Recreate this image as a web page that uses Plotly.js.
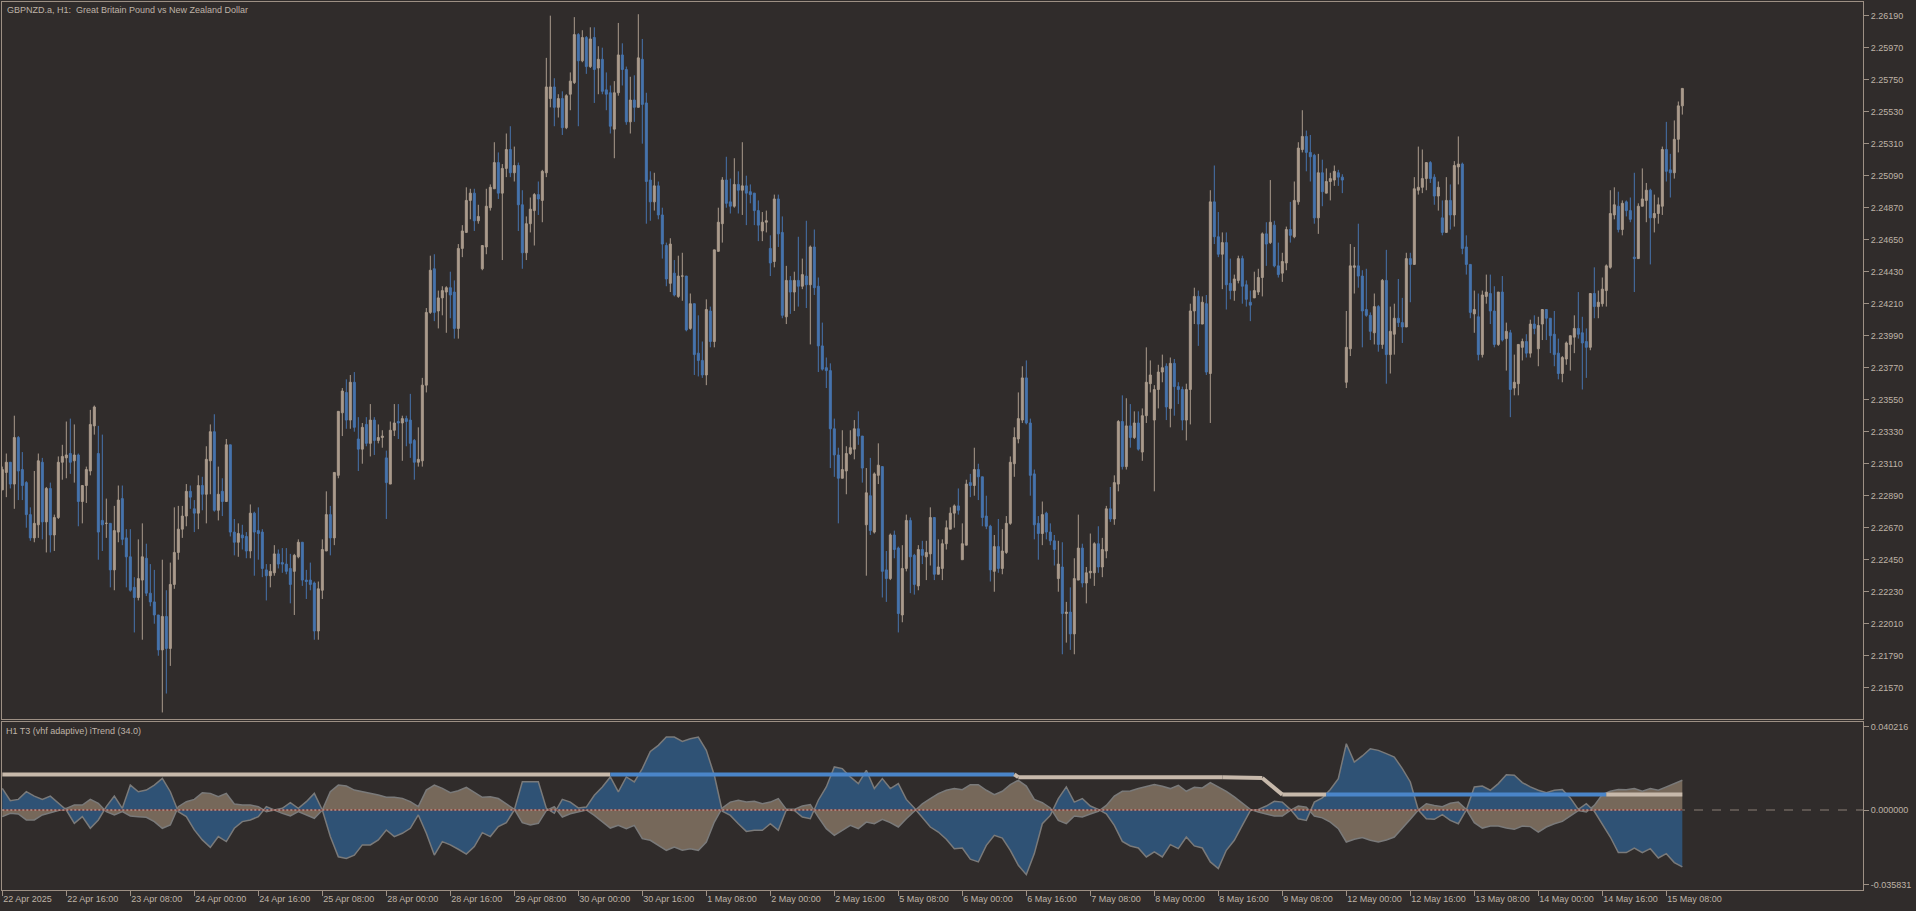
<!DOCTYPE html>
<html><head><meta charset="utf-8">
<script src="https://cdn.plot.ly/plotly-3.0.1.min.js"></script>
<style>html,body{margin:0;padding:0;background:#302c2b;overflow:hidden}#chart{width:1916px;height:911px}</style>
</head><body><div id="chart"></div>
<script>
// ---------- DATA (GBPNZD.a H1, 22 Apr 2025 00:00 -> 15 May 2025 12:00) ----------
const openP = [
2.2293,2.2305,2.2312,2.2297,2.2329,2.2307,2.2298,2.2276,2.2260,2.2269,
2.2312,2.2271,2.2294,2.2262,2.2274,2.2312,2.2315,2.2318,2.2313,2.2317,
2.2285,2.2296,2.2306,2.2337,2.2318,2.2272,2.2270,2.2270,2.2238,2.2264,
2.2287,2.2260,2.2247,2.2226,2.2219,2.2231,2.2246,2.2222,2.2216,2.2207,
2.2183,2.2206,2.2184,2.2228,2.2250,2.2266,2.2275,2.2292,2.2280,2.2277,
2.2296,2.2290,2.2313,2.2333,2.2279,2.2292,2.2285,2.2324,2.2264,2.2257,
2.2262,2.2261,2.2251,2.2277,2.2265,2.2264,2.2238,2.2234,2.2236,2.2249,
2.2243,2.2242,2.2239,2.2237,2.2247,2.2257,2.2231,2.2231,2.2229,2.2196,
2.2224,2.2251,2.2276,2.2260,2.2303,2.2346,2.2360,2.2341,2.2367,2.2328,
2.2321,2.2338,2.2325,2.2341,2.2327,2.2329,2.2315,2.2297,2.2334,2.2340,
2.2339,2.2342,2.2341,2.2327,2.2312,2.2313,2.2365,2.2415,2.2445,2.2416,
2.2425,2.2429,2.2432,2.2429,2.2404,2.2459,2.2470,2.2492,2.2497,2.2478,
2.2445,2.2460,2.2487,2.2500,2.2518,2.2497,2.2514,2.2527,2.2511,2.2516,
2.2489,2.2456,2.2476,2.2485,2.2496,2.2492,2.2511,2.2562,2.2570,2.2556,
2.2562,2.2542,2.2565,2.2573,2.2606,2.2588,2.2604,2.2584,2.2604,2.2583,
2.2589,2.2568,2.2566,2.2541,2.2566,2.2592,2.2582,2.2546,2.2561,2.2556,
2.2589,2.2559,2.2506,2.2491,2.2502,2.2482,2.2461,2.2435,2.2442,2.2426,
2.2440,2.2440,2.2404,2.2421,2.2387,2.2382,2.2372,2.2416,2.2395,2.2457,
2.2476,2.2506,2.2491,2.2488,2.2503,2.2499,2.2502,2.2498,2.2497,2.2485,
2.2471,2.2477,2.2459,2.2450,2.2493,2.2470,2.2412,2.2437,2.2429,2.2437,
2.2433,2.2440,2.2434,2.2460,2.2433,2.2392,2.2377,2.2375,2.2335,2.2317,
2.2301,2.2306,2.2318,2.2321,2.2335,2.2330,2.2269,2.2289,2.2264,2.2303,
2.2309,2.2238,2.2232,2.2262,2.2253,2.2207,2.2239,2.2272,2.2248,2.2227,
2.2252,2.2247,2.2249,2.2274,2.2235,2.2239,2.2256,2.2266,2.2277,2.2282,
2.2245,2.2255,2.2298,2.2296,2.2307,2.2302,2.2275,2.2268,2.2237,2.2254,
2.2239,2.2250,2.2270,2.2311,2.2328,2.2341,2.2370,2.2339,2.2304,2.2270,
2.2263,2.2277,2.2264,2.2258,2.2232,2.2240,2.2208,2.2209,2.2194,2.2231,
2.2253,2.2229,2.2236,2.2236,2.2256,2.2240,2.2251,2.2280,2.2273,2.2297,
2.2340,2.2309,2.2337,2.2329,2.2339,2.2319,2.2344,2.2366,2.2341,2.2362,
2.2374,2.2378,2.2349,2.2380,2.2364,2.2362,2.2341,2.2362,2.2416,2.2426,
2.2407,2.2421,2.2373,2.2491,2.2467,2.2455,2.2463,2.2435,2.2430,2.2437,
2.2452,2.2434,2.2422,2.2425,2.2429,2.2439,2.2469,2.2463,2.2475,2.2447,
2.2442,2.2449,2.2472,2.2467,2.2491,2.2527,2.2536,2.2525,2.2523,2.2480,
2.2511,2.2497,2.2505,2.2506,2.2511,2.2508,2.2367,2.2390,2.2446,2.2447,
2.2440,2.2417,2.2413,2.2401,2.2419,2.2393,2.2437,2.2386,2.2400,2.2411,
2.2408,2.2405,2.2452,2.2448,2.2499,2.2501,2.2507,2.2518,2.2508,2.2495,
2.2480,2.2470,2.2492,2.2482,2.2515,2.2517,2.2460,2.2448,2.2414,2.2412,
2.2386,2.2426,2.2428,2.2416,2.2393,2.2429,2.2397,2.2401,2.2363,2.2366,
2.2391,2.2395,2.2387,2.2407,2.2390,2.2407,2.2417,2.2411,2.2400,2.2387,
2.2373,2.2383,2.2393,2.2398,2.2404,2.2401,2.2395,2.2391,2.2428,2.2419,
2.2421,2.2430,2.2446,2.2482,2.2488,2.2472,2.2491,2.2485,2.2453,2.2452,
2.2488,2.2492,2.2499,2.2480,2.2483,2.2488,2.2527,2.2513,2.2511,2.2534,
2.2557];
const highP = [
2.2309,2.2318,2.2312,2.2344,2.2330,2.2319,2.2299,2.2281,2.2306,2.2318,
2.2315,2.2295,2.2298,2.2276,2.2316,2.2324,2.2340,2.2342,2.2338,2.2318,
2.2296,2.2309,2.2348,2.2351,2.2337,2.2331,2.2287,2.2270,2.2282,2.2296,
2.2296,2.2266,2.2266,2.2233,2.2259,2.2270,2.2256,2.2242,2.2238,2.2207,
2.2245,2.2224,2.2243,2.2281,2.2282,2.2282,2.2297,2.2296,2.2286,2.2303,
2.2302,2.2323,2.2338,2.2345,2.2309,2.2301,2.2328,2.2324,2.2273,2.2270,
2.2269,2.2264,2.2283,2.2278,2.2281,2.2266,2.2242,2.2242,2.2255,2.2252,
2.2253,2.2253,2.2249,2.2249,2.2259,2.2257,2.2238,2.2243,2.2230,2.2230,
2.2259,2.2292,2.2282,2.2305,2.2347,2.2363,2.2369,2.2372,2.2374,2.2343,
2.2339,2.2343,2.2352,2.2343,2.2338,2.2334,2.2320,2.2340,2.2352,2.2352,
2.2344,2.2344,2.2359,2.2328,2.2336,2.2370,2.2418,2.2454,2.2455,2.2430,
2.2433,2.2433,2.2443,2.2437,2.2462,2.2475,2.2501,2.2500,2.2500,2.2489,
2.2461,2.2500,2.2503,2.2532,2.2525,2.2517,2.2538,2.2543,2.2529,2.2518,
2.2499,2.2481,2.2494,2.2497,2.2505,2.2513,2.2590,2.2619,2.2576,2.2565,
2.2567,2.2565,2.2580,2.2618,2.2607,2.2609,2.2605,2.2611,2.2611,2.2598,
2.2597,2.2580,2.2571,2.2574,2.2614,2.2600,2.2584,2.2577,2.2578,2.2620,
2.2603,2.2566,2.2512,2.2511,2.2505,2.2487,2.2463,2.2466,2.2451,2.2454,
2.2456,2.2440,2.2428,2.2421,2.2413,2.2395,2.2424,2.2419,2.2458,2.2487,
2.2508,2.2522,2.2507,2.2521,2.2512,2.2532,2.2509,2.2503,2.2497,2.2492,
2.2484,2.2485,2.2468,2.2496,2.2496,2.2481,2.2447,2.2440,2.2443,2.2467,
2.2452,2.2478,2.2461,2.2472,2.2439,2.2408,2.2384,2.2380,2.2342,2.2322,
2.2334,2.2323,2.2334,2.2341,2.2347,2.2330,2.2308,2.2315,2.2305,2.2325,
2.2309,2.2251,2.2263,2.2265,2.2254,2.2255,2.2276,2.2274,2.2249,2.2255,
2.2258,2.2258,2.2281,2.2274,2.2259,2.2259,2.2272,2.2281,2.2283,2.2294,
2.2270,2.2300,2.2304,2.2322,2.2311,2.2302,2.2289,2.2269,2.2262,2.2273,
2.2266,2.2275,2.2316,2.2336,2.2360,2.2378,2.2382,2.2342,2.2307,2.2275,
2.2285,2.2278,2.2270,2.2262,2.2258,2.2257,2.2216,2.2226,2.2246,2.2276,
2.2256,2.2240,2.2263,2.2257,2.2268,2.2260,2.2282,2.2295,2.2303,2.2341,
2.2358,2.2356,2.2352,2.2347,2.2347,2.2349,2.2391,2.2382,2.2365,2.2379,
2.2386,2.2380,2.2384,2.2383,2.2367,2.2364,2.2366,2.2421,2.2432,2.2430,
2.2426,2.2427,2.2499,2.2516,2.2484,2.2470,2.2470,2.2452,2.2441,2.2454,
2.2454,2.2437,2.2430,2.2443,2.2445,2.2470,2.2477,2.2506,2.2478,2.2463,
2.2456,2.2474,2.2491,2.2505,2.2532,2.2554,2.2540,2.2537,2.2524,2.2524,
2.2520,2.2514,2.2511,2.2516,2.2513,2.2510,2.2416,2.2462,2.2460,2.2476,
2.2444,2.2445,2.2415,2.2428,2.2420,2.2438,2.2458,2.2419,2.2421,2.2438,
2.2425,2.2456,2.2456,2.2508,2.2529,2.2527,2.2518,2.2519,2.2510,2.2505,
2.2492,2.2508,2.2503,2.2519,2.2536,2.2518,2.2468,2.2448,2.2430,2.2428,
2.2430,2.2441,2.2441,2.2433,2.2429,2.2440,2.2408,2.2403,2.2386,2.2393,
2.2397,2.2400,2.2410,2.2413,2.2412,2.2417,2.2417,2.2411,2.2416,2.2397,
2.2385,2.2395,2.2399,2.2413,2.2429,2.2412,2.2404,2.2428,2.2446,2.2430,
2.2439,2.2448,2.2499,2.2501,2.2498,2.2492,2.2492,2.2494,2.2511,2.2490,
2.2514,2.2504,2.2500,2.2496,2.2494,2.2529,2.2546,2.2524,2.2547,2.2560,
2.2569];
const lowP = [
2.2293,2.2288,2.2294,2.2280,2.2286,2.2286,2.2267,2.2258,2.2257,2.2260,
2.2259,2.2250,2.2250,2.2251,2.2273,2.2300,2.2301,2.2304,2.2298,2.2268,
2.2270,2.2284,2.2303,2.2331,2.2245,2.2251,2.2260,2.2226,2.2224,2.2257,
2.2255,2.2226,2.2223,2.2195,2.2217,2.2190,2.2220,2.2213,2.2201,2.2179,
2.2140,2.2153,2.2172,2.2225,2.2245,2.2260,2.2268,2.2280,2.2264,2.2266,
2.2279,2.2270,2.2290,2.2278,2.2272,2.2275,2.2285,2.2261,2.2248,2.2247,
2.2252,2.2246,2.2246,2.2234,2.2245,2.2233,2.2217,2.2226,2.2234,2.2239,
2.2236,2.2235,2.2215,2.2207,2.2246,2.2227,2.2218,2.2224,2.2190,2.2190,
2.2218,2.2251,2.2248,2.2255,2.2301,2.2330,2.2335,2.2335,2.2333,2.2306,
2.2311,2.2323,2.2316,2.2317,2.2325,2.2322,2.2273,2.2297,2.2330,2.2328,
2.2313,2.2323,2.2315,2.2300,2.2309,2.2309,2.2360,2.2414,2.2409,2.2404,
2.2413,2.2401,2.2411,2.2397,2.2397,2.2453,2.2470,2.2479,2.2471,2.2476,
2.2444,2.2455,2.2485,2.2500,2.2493,2.2451,2.2508,2.2508,2.2505,2.2471,
2.2445,2.2451,2.2470,2.2461,2.2482,2.2477,2.2508,2.2556,2.2543,2.2549,
2.2537,2.2541,2.2554,2.2572,2.2543,2.2587,2.2579,2.2583,2.2559,2.2565,
2.2565,2.2554,2.2538,2.2521,2.2564,2.2571,2.2544,2.2538,2.2546,2.2556,
2.2531,2.2476,2.2478,2.2485,2.2479,2.2452,2.2433,2.2429,2.2426,2.2425,
2.2423,2.2402,2.2403,2.2372,2.2371,2.2370,2.2365,2.2391,2.2391,2.2457,
2.2463,2.2487,2.2483,2.2487,2.2483,2.2482,2.2475,2.2490,2.2475,2.2464,
2.2464,2.2470,2.2440,2.2446,2.2460,2.2411,2.2407,2.2414,2.2416,2.2419,
2.2431,2.2418,2.2393,2.2427,2.2374,2.2375,2.2363,2.2308,2.2302,2.2270,
2.2301,2.2290,2.2317,2.2314,2.2324,2.2298,2.2234,2.2262,2.2263,2.2297,
2.2219,2.2216,2.2231,2.2246,2.2195,2.2202,2.2237,2.2222,2.2221,2.2224,
2.2242,2.2231,2.2241,2.2231,2.2235,2.2231,2.2252,2.2266,2.2267,2.2276,
2.2245,2.2255,2.2288,2.2289,2.2286,2.2268,2.2266,2.2230,2.2223,2.2236,
2.2235,2.2249,2.2269,2.2302,2.2325,2.2339,2.2338,2.2289,2.2259,2.2245,
2.2255,2.2259,2.2255,2.2241,2.2223,2.2180,2.2188,2.2183,2.2180,2.2231,
2.2226,2.2215,2.2232,2.2227,2.2236,2.2233,2.2246,2.2271,2.2269,2.2292,
2.2307,2.2307,2.2322,2.2328,2.2320,2.2313,2.2339,2.2360,2.2292,2.2349,
2.2367,2.2341,2.2336,2.2344,2.2352,2.2334,2.2327,2.2338,2.2407,2.2392,
2.2407,2.2372,2.2339,2.2462,2.2453,2.2431,2.2417,2.2424,2.2423,2.2435,
2.2421,2.2419,2.2409,2.2425,2.2427,2.2426,2.2447,2.2462,2.2446,2.2439,
2.2436,2.2444,2.2463,2.2466,2.2489,2.2525,2.2512,2.2505,2.2476,2.2469,
2.2488,2.2497,2.2492,2.2502,2.2502,2.2497,2.2363,2.2385,2.2428,2.2432,
2.2391,2.2412,2.2396,2.2393,2.2388,2.2390,2.2366,2.2373,2.2386,2.2405,
2.2394,2.2405,2.2422,2.2448,2.2496,2.2497,2.2499,2.2504,2.2489,2.2485,
2.2468,2.2470,2.2472,2.2474,2.2503,2.2455,2.2441,2.2411,2.2401,2.2382,
2.2384,2.2421,2.2407,2.2391,2.2392,2.2395,2.2375,2.2343,2.2358,2.2358,
2.2382,2.2384,2.2384,2.2400,2.2378,2.2396,2.2396,2.2387,2.2378,2.2369,
2.2367,2.2379,2.2375,2.2387,2.2397,2.2362,2.2370,2.2389,2.2411,2.2411,
2.2419,2.2419,2.2445,2.2479,2.2470,2.2468,2.2481,2.2477,2.2429,2.2452,
2.2488,2.2477,2.2448,2.2470,2.2476,2.2482,2.2505,2.2494,2.2507,2.2525,
2.2551];
const closeP = [
2.2307,2.2312,2.2297,2.2329,2.2306,2.2296,2.2276,2.2260,2.2270,2.2313,
2.2271,2.2294,2.2262,2.2274,2.2312,2.2316,2.2317,2.2312,2.2317,2.2285,
2.2296,2.2307,2.2338,2.2350,2.2264,2.2269,2.2270,2.2238,2.2265,2.2286,
2.2259,2.2247,2.2224,2.2219,2.2232,2.2247,2.2222,2.2216,2.2207,2.2183,
2.2206,2.2184,2.2228,2.2250,2.2266,2.2275,2.2292,2.2288,2.2277,2.2296,
2.2290,2.2314,2.2333,2.2279,2.2290,2.2285,2.2324,2.2264,2.2257,2.2263,
2.2260,2.2251,2.2277,2.2264,2.2263,2.2239,2.2234,2.2237,2.2249,2.2242,
2.2242,2.2237,2.2228,2.2248,2.2257,2.2231,2.2230,2.2228,2.2196,2.2225,
2.2252,2.2276,2.2260,2.2305,2.2347,2.2361,2.2341,2.2367,2.2336,2.2321,
2.2336,2.2325,2.2341,2.2327,2.2329,2.2330,2.2298,2.2334,2.2339,2.2339,
2.2342,2.2340,2.2325,2.2312,2.2314,2.2365,2.2415,2.2444,2.2415,2.2425,
2.2430,2.2432,2.2427,2.2404,2.2459,2.2471,2.2492,2.2497,2.2478,2.2481,
2.2461,2.2488,2.2501,2.2518,2.2497,2.2514,2.2527,2.2511,2.2516,2.2489,
2.2456,2.2476,2.2486,2.2496,2.2493,2.2512,2.2570,2.2570,2.2556,2.2562,
2.2542,2.2564,2.2574,2.2606,2.2588,2.2604,2.2584,2.2603,2.2582,2.2589,
2.2567,2.2565,2.2543,2.2566,2.2592,2.2582,2.2546,2.2561,2.2556,2.2590,
2.2558,2.2505,2.2491,2.2502,2.2482,2.2462,2.2438,2.2462,2.2427,2.2440,
2.2440,2.2403,2.2421,2.2386,2.2382,2.2372,2.2417,2.2395,2.2458,2.2477,
2.2506,2.2490,2.2488,2.2503,2.2499,2.2502,2.2497,2.2496,2.2485,2.2475,
2.2477,2.2478,2.2449,2.2493,2.2469,2.2413,2.2437,2.2429,2.2437,2.2433,
2.2441,2.2434,2.2460,2.2432,2.2392,2.2376,2.2375,2.2335,2.2317,2.2301,
2.2307,2.2318,2.2322,2.2335,2.2330,2.2308,2.2291,2.2265,2.2304,2.2310,
2.2237,2.2232,2.2262,2.2252,2.2208,2.2239,2.2272,2.2247,2.2228,2.2252,
2.2248,2.2250,2.2274,2.2235,2.2240,2.2256,2.2267,2.2277,2.2282,2.2279,
2.2256,2.2297,2.2296,2.2307,2.2302,2.2274,2.2268,2.2238,2.2254,2.2239,
2.2251,2.2270,2.2312,2.2329,2.2342,2.2370,2.2339,2.2303,2.2269,2.2263,
2.2276,2.2264,2.2258,2.2252,2.2242,2.2208,2.2209,2.2194,2.2232,2.2253,
2.2229,2.2236,2.2237,2.2256,2.2240,2.2252,2.2280,2.2273,2.2298,2.2340,
2.2309,2.2337,2.2329,2.2339,2.2321,2.2344,2.2367,2.2372,2.2362,2.2374,
2.2377,2.2350,2.2380,2.2364,2.2362,2.2341,2.2362,2.2416,2.2426,2.2407,
2.2422,2.2374,2.2491,2.2467,2.2455,2.2463,2.2434,2.2430,2.2438,2.2452,
2.2433,2.2424,2.2420,2.2430,2.2439,2.2469,2.2462,2.2477,2.2447,2.2441,
2.2450,2.2472,2.2468,2.2492,2.2528,2.2536,2.2525,2.2522,2.2480,2.2511,
2.2498,2.2505,2.2507,2.2512,2.2508,2.2506,2.2391,2.2447,2.2447,2.2440,
2.2416,2.2413,2.2402,2.2419,2.2393,2.2437,2.2386,2.2402,2.2411,2.2408,
2.2405,2.2452,2.2448,2.2500,2.2501,2.2507,2.2518,2.2507,2.2495,2.2501,
2.2470,2.2492,2.2482,2.2516,2.2517,2.2459,2.2448,2.2415,2.2417,2.2386,
2.2427,2.2429,2.2416,2.2393,2.2429,2.2396,2.2402,2.2362,2.2367,2.2393,
2.2395,2.2387,2.2407,2.2404,2.2406,2.2417,2.2411,2.2399,2.2386,2.2373,
2.2384,2.2394,2.2399,2.2404,2.2400,2.2394,2.2391,2.2428,2.2419,2.2422,
2.2431,2.2447,2.2483,2.2489,2.2472,2.2490,2.2485,2.2479,2.2452,2.2488,
2.2493,2.2499,2.2480,2.2483,2.2489,2.2527,2.2512,2.2511,2.2534,2.2557,
2.2569];

const priceTicks = [2.2157,2.2179,2.2201,2.2223,2.2245,2.2267,2.2289,2.2311,2.2333,2.2355,2.2377,
  2.2399,2.2421,2.2443,2.2465,2.2487,2.2509,2.2531,2.2553,2.2575,2.2597,2.2619];
const timeTickBars = [0,16,32,48,64,80,96,112,128,144,160,176,192,208,224,240,256,272,288,304,320,336,352,368,384,400,416];
const timeTickLabels = ['22 Apr 2025','22 Apr 16:00','23 Apr 08:00','24 Apr 00:00','24 Apr 16:00','25 Apr 08:00',
  '28 Apr 00:00','28 Apr 16:00','29 Apr 08:00','30 Apr 00:00','30 Apr 16:00','1 May 08:00','2 May 00:00',
  '2 May 16:00','5 May 08:00','6 May 00:00','6 May 16:00','7 May 08:00','8 May 00:00','8 May 16:00',
  '9 May 08:00','12 May 00:00','12 May 16:00','13 May 08:00','14 May 00:00','14 May 16:00','15 May 08:00'];

// iTrend indicator, read every 2nd bar (bar index, bull line, bear line)
const indBars = [0,2,4,6,8,10,12,14,16,18,20,22,24,26,28,30,32,34,36,38,40,42,44,46,48,50,52,54,56,58,
60,62,64,66,68,70,72,74,76,78,80,82,84,86,88,90,92,94,96,98,100,102,104,106,108,110,112,114,116,118,
120,122,124,126,128,130,132,134,136,138,140,142,144,146,148,150,152,154,156,158,160,162,164,166,168,170,172,174,176,178,
180,182,184,186,188,190,192,194,196,198,200,202,204,206,208,210,212,214,216,218,220,222,224,226,228,230,232,234,236,238,
240,242,244,246,248,250,252,254,256,258,260,262,264,266,268,270,272,274,276,278,280,282,284,286,288,290,292,294,296,298,
300,302,304,306,308,310,312,314,316,318,320,322,324,326,328,330,332,334,336,338,340,342,344,346,348,350,352,354,356,358,
360,362,364,366,368,370,372,374,376,378,380,382,384,386,388,390,392,394,396,398,400,402,404,406,408,410,412,414,416,418,420];
const bullLine = [
0.0104,0.0045,0.0051,0.0088,0.0067,0.0051,0.0067,0.0032,0,-0.0064,
-0.0032,-0.0088,-0.0048,0.0016,0.0067,0.0008,0.0120,0.0088,0.0096,0.0120,
0.0152,0.0088,-0.0008,-0.0032,-0.0096,-0.0144,-0.0180,-0.0128,-0.0152,-0.0088,
-0.0056,-0.0048,-0.0032,0.0016,0,0.0008,0.0035,0.0008,0.0040,0.0080,
0,-0.0128,-0.0225,-0.0233,-0.0217,-0.0168,-0.0168,-0.0144,-0.0096,-0.0128,
-0.0112,-0.0088,-0.0024,-0.0112,-0.0217,-0.0152,-0.0168,-0.0189,-0.0212,-0.0176,
-0.0109,-0.0128,-0.0080,-0.0061,0,0.0136,0.0136,0.0136,0.0008,-0.0016,
0.0051,0.0038,0.0010,0.0014,0.0071,0.0111,0.0159,0.0087,0.0159,0.0135,
0.0199,0.0282,0.0311,0.0351,0.0351,0.0330,0.0343,0.0351,0.0287,0.0167,
-0.0006,-0.0026,-0.0066,-0.0103,-0.0098,-0.0098,-0.0066,-0.0098,0,-0.0002,
-0.0034,-0.0042,0.0047,0.0111,0.0207,0.0199,0.0159,0.0127,0.0191,0.0103,
0.0151,0.0103,0.0127,0.0051,0.0010,-0.0038,-0.0082,-0.0106,-0.0141,-0.0186,
-0.0183,-0.0237,-0.0250,-0.0170,-0.0122,-0.0135,-0.0194,-0.0266,-0.0311,-0.0210,
-0.0066,-0.0026,0.0055,0.0111,0.0038,0.0055,0.0019,0.0003,-0.0018,-0.0074,
-0.0151,-0.0173,-0.0183,-0.0226,-0.0202,-0.0226,-0.0167,-0.0186,-0.0130,-0.0173,
-0.0183,-0.0250,-0.0282,-0.0194,-0.0146,-0.0074,-0.0003,0.0003,0.0019,0.0042,
0.0038,0.0003,-0.0042,-0.0050,0.0038,0.0058,0.0099,0.0151,0.0319,0.0231,
0.0260,0.0295,0.0287,0.0271,0.0255,0.0199,0.0135,0,-0.0042,-0.0045,
-0.0022,-0.0050,-0.0066,0,0.0111,0.0115,0.0095,0.0127,0.0170,0.0167,
0.0132,0.0111,0.0095,0.0083,0.0095,0.0099,0.0058,0.0003,0.0030,-0.0006,
-0.0066,-0.0130,-0.0205,-0.0205,-0.0183,-0.0205,-0.0186,-0.0231,-0.0210,-0.0253,
-0.0274];
const bearLine = [
-0.0032,-0.0016,-0.0019,-0.0048,-0.0048,-0.0024,-0.0013,-0.0003,0.0008,0.0024,
0.0024,0.0051,0.0032,-0.0008,-0.0024,-0.0008,-0.0029,-0.0032,-0.0035,-0.0056,
-0.0088,-0.0072,0.0016,0.0040,0.0051,0.0083,0.0080,0.0064,0.0080,0.0029,
0.0024,0.0024,0.0016,-0.0008,0,-0.0016,-0.0029,-0.0008,-0.0024,-0.0040,
0,0.0088,0.0120,0.0115,0.0096,0.0088,0.0083,0.0072,0.0061,0.0061,
0.0056,0.0040,0.0016,0.0096,0.0120,0.0104,0.0083,0.0093,0.0109,0.0083,
0.0061,0.0064,0.0055,0.0029,0.0003,-0.0061,-0.0072,-0.0064,-0.0003,0.0016,
-0.0034,-0.0018,-0.0010,0,-0.0026,-0.0058,-0.0087,-0.0074,-0.0090,-0.0074,
-0.0138,-0.0146,-0.0170,-0.0194,-0.0178,-0.0194,-0.0186,-0.0194,-0.0154,-0.0058,
0.0010,0.0038,0.0047,0.0038,0.0042,0.0030,0.0038,0.0055,0.0003,0.0003,
0.0019,0.0026,-0.0034,-0.0090,-0.0122,-0.0098,-0.0074,-0.0090,-0.0058,-0.0066,
-0.0045,-0.0061,-0.0082,-0.0042,-0.0006,0.0030,0.0055,0.0079,0.0095,0.0103,
0.0098,0.0122,0.0122,0.0095,0.0074,0.0090,0.0122,0.0143,0.0115,0.0051,
0.0035,0.0010,-0.0050,-0.0066,-0.0029,-0.0034,-0.0019,-0.0006,0.0022,0.0067,
0.0090,0.0091,0.0103,0.0111,0.0122,0.0114,0.0103,0.0119,0.0090,0.0109,
0.0106,0.0132,0.0111,0.0090,0.0063,0.0035,0.0003,-0.0010,-0.0018,-0.0029,
-0.0029,-0.0002,0.0019,0.0014,-0.0029,-0.0038,-0.0058,-0.0090,-0.0154,-0.0141,
-0.0133,-0.0146,-0.0154,-0.0144,-0.0130,-0.0090,-0.0045,0,0.0030,0.0022,
0.0016,0.0032,0.0038,0.0003,-0.0061,-0.0087,-0.0077,-0.0077,-0.0087,-0.0093,
-0.0077,-0.0080,-0.0106,-0.0082,-0.0066,-0.0055,-0.0029,-0.0003,-0.0010,0.0022,
0.0074,0.0090,0.0099,0.0098,0.0103,0.0090,0.0103,0.0095,0.0111,0.0127,
0.0143];
// T3 level line: break points and trend state of each following segment
const levelBars = [0,152,253,254,305,315,320,331,401,420];
const levelVals = [0.0171,0.0171,0.0171,0.0158,0.0157,0.0154,0.0074,0.0074,0.0074,0.0074];
const levelTrend = ['down','up','down','down','down','down','down','up','down'];
const indMax = 0.040216, indMin = -0.035831;

// ---------- STYLE ----------
const BG='#302c2b', UP='#aa9b8c', DN='#4674ad', TXT='#bfb3a7', AX='#9d9084';
const FONT={family:'Liberation Sans, Arial, sans-serif', size:9, color:TXT};
const barIndex = closeP.map((_, i) => i);
const xr=[-0.08, 465.17];

const traces=[];
traces.push({type:'candlestick', x:barIndex, open:openP, high:highP, low:lowP, close:closeP,
  xaxis:'x', yaxis:'y', whiskerwidth:0, hoverinfo:'skip',
  increasing:{line:{color:UP,width:1}, fillcolor:UP},
  decreasing:{line:{color:DN,width:1}, fillcolor:DN}});
traces.push({type:'scatter', mode:'lines', x:indBars, y:bearLine, xaxis:'x2', yaxis:'y2',
  fill:'tozeroy', fillcolor:'#76685a', line:{color:'#7a7a7a', width:1.5}, hoverinfo:'skip'});
traces.push({type:'scatter', mode:'lines', x:indBars, y:bullLine, xaxis:'x2', yaxis:'y2',
  fill:'tozeroy', fillcolor:'#2f5275', line:{color:'#7a7a7a', width:1.5}, hoverinfo:'skip'});
// zero level over the data: dark red with light dots
const zx = [barIndex[0], barIndex[barIndex.length-1]];
traces.push({type:'scatter', mode:'lines', x:zx, y:[0,0], xaxis:'x2', yaxis:'y2',
  line:{color:'#8c2a22', width:1}, hoverinfo:'skip'});
traces.push({type:'scatter', mode:'lines', x:zx, y:[0,0], xaxis:'x2', yaxis:'y2',
  line:{color:'#cfc3b6', width:1, dash:'2px,2px'}, hoverinfo:'skip'});
for(let i=0;i<levelBars.length-1;i++){
  traces.push({type:'scatter', mode:'lines', x:[levelBars[i],levelBars[i+1]], y:[levelVals[i],levelVals[i+1]],
    xaxis:'x2', yaxis:'y2', line:{color: levelTrend[i]==='up' ? '#4a85c9' : '#c7b9ab', width:4}, hoverinfo:'skip'});
}

const layout={
  width:1916, height:911, paper_bgcolor:BG, plot_bgcolor:BG, font:FONT,
  margin:{l:2, r:53, t:2, b:21}, showlegend:false, hovermode:false, dragmode:false,
  boxgap:0.3,
  xaxis:{domain:[0,1], anchor:'y', range:xr, showticklabels:false, ticks:'', showgrid:false, zeroline:false,
    showline:true, mirror:true, linecolor:AX, linewidth:1, rangeslider:{visible:false}, fixedrange:true},
  yaxis:{domain:[0.19257,1], anchor:'x', range:[2.21355,2.26284], side:'right', tickvals:priceTicks,
    ticktext:priceTicks.map(v=>v.toFixed(5)), ticks:'outside', ticklen:5, tickcolor:AX, showgrid:false,
    zeroline:false, showline:true, mirror:true, linecolor:AX, linewidth:1, fixedrange:true, tickfont:FONT},
  xaxis2:{domain:[0,1], anchor:'y2', range:xr, tickvals:timeTickBars, ticktext:timeTickLabels, tickangle:0,
    ticks:'outside', ticklen:5, tickcolor:AX, ticklabelposition:'outside right', showgrid:false, zeroline:false,
    showline:true, mirror:true, linecolor:AX, linewidth:1, fixedrange:true, tickfont:FONT},
  yaxis2:{domain:[0,0.1892], anchor:'x2', range:[-0.0385,0.04235], side:'right',
    tickvals:[indMax,0,indMin], ticktext:[indMax,0,indMin].map(v=>v.toFixed(6)), ticks:'outside', ticklen:5,
    tickcolor:AX, showgrid:false, zeroline:false, showline:true, mirror:true, linecolor:AX, linewidth:1,
    fixedrange:true, tickfont:FONT},
  shapes:[{type:'line', xref:'paper', x0:0, x1:1, yref:'y2', y0:0, y1:0, layer:'below',
    line:{color:'#8a7e76', width:1, dash:'dash'}}],
  annotations:[
    {xref:'paper', yref:'paper', x:0, y:1, xanchor:'left', yanchor:'top', xshift:3, yshift:-1, showarrow:false,
     text:'GBPNZD.a, H1:  Great Britain Pound vs New Zealand Dollar', font:FONT},
    {xref:'paper', yref:'paper', x:0, y:0.1892, xanchor:'left', yanchor:'top', xshift:2, yshift:-2, showarrow:false,
     text:'H1 T3 (vhf adaptive) iTrend (34.0)', font:FONT}
  ]
};
Plotly.newPlot('chart', traces, layout, {staticPlot:true, displayModeBar:false});
</script></body></html>
